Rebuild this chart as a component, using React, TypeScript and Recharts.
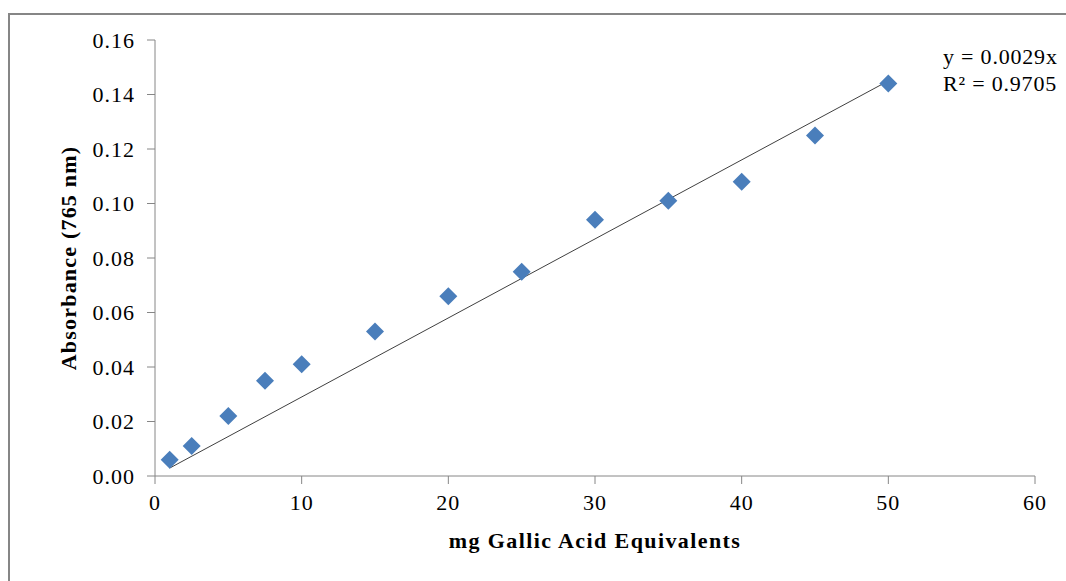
import { ScatterChart, Scatter, XAxis, YAxis } from 'recharts'

// gallic acid standard curve
const concentrations = [1, 2.5, 5, 7.5, 10, 15, 20, 25, 30, 35, 40, 45, 50]
const absorbances = [0.006, 0.011, 0.022, 0.035, 0.041, 0.053, 0.066, 0.075, 0.094, 0.101, 0.108, 0.125, 0.144]
const trendX = [1, 50]
const trendY = [0.0029, 0.145]
const xTicks = [0, 10, 20, 30, 40, 50, 60]
const yTicks = [0, 0.02, 0.04, 0.06, 0.08, 0.1, 0.12, 0.14, 0.16]
const equationLines = ['y = 0.0029x', 'R² = 0.9705']

const points = concentrations.map((x, i) => ({ x, y: absorbances[i] }))
const trend = trendX.map((x, i) => ({ x, y: trendY[i] }))

const font = '"Liberation Serif", "Times New Roman", serif'

const Diamond = (props: { cx?: number; cy?: number }) => {
  const { cx, cy } = props
  if (cx === undefined || cy === undefined) return null
  const r = 9
  return (
    <polygon
      points={`${cx},${cy - r} ${cx + r},${cy} ${cx},${cy + r} ${cx - r},${cy}`}
      fill="#4a7ebb"
    />
  )
}

export default function App() {
  return (
    <div style={{ position: 'absolute', left: 0, top: 0, width: 1066, height: 581, overflow: 'hidden', background: '#fff' }}>
      <div
        style={{
          position: 'absolute',
          left: 8,
          top: 13,
          width: 1100,
          height: 600,
          borderLeft: '2px solid #868686',
          borderTop: '2px solid #868686',
        }}
      />
      <ScatterChart
        width={1066}
        height={581}
        margin={{ top: 40, right: 31, bottom: 33, left: 75 }}
        style={{ position: 'absolute', left: 0, top: 0, fontFamily: font }}
      >
        <XAxis
          type="number"
          dataKey="x"
          domain={[0, 60]}
          ticks={xTicks}
          height={72}
          stroke="#868686"
          tickSize={8}
          tick={{ fill: '#000', fontSize: 22, fontFamily: font, letterSpacing: 1 }}
          tickMargin={10}
          label={{ value: 'mg Gallic Acid Equivalents', position: 'insideBottom', offset: 0, fill: '#000', fontSize: 22, fontWeight: 'bold', fontFamily: font, letterSpacing: 1.4 }}
        />
        <YAxis
          type="number"
          dataKey="y"
          domain={[0, 0.16]}
          ticks={yTicks}
          width={80}
          stroke="#868686"
          tickSize={8}
          tickMargin={12}
          tickFormatter={(v: number) => v.toFixed(2)}
          tick={{ fill: '#000', fontSize: 22, fontFamily: font, letterSpacing: 1 }}
          label={{ value: 'Absorbance (765 nm)', angle: -90, position: 'insideLeft', offset: -7, style: { textAnchor: 'middle' }, fill: '#000', fontSize: 22, fontWeight: 'bold', fontFamily: font, letterSpacing: 1.2 }}
        />
        <Scatter
          data={trend}
          line={{ stroke: '#404040', strokeWidth: 1 }}
          shape={() => <g />}
          isAnimationActive={false}
        />
        <Scatter data={points} shape={Diamond} isAnimationActive={false} />
      </ScatterChart>
      <div style={{ position: 'absolute', left: 943, top: 43, fontFamily: font, fontSize: 22, lineHeight: '27px', letterSpacing: 0.8, whiteSpace: 'nowrap', color: '#000' }}>
        {equationLines.map((t) => (
          <div key={t}>{t}</div>
        ))}
      </div>
    </div>
  )
}
